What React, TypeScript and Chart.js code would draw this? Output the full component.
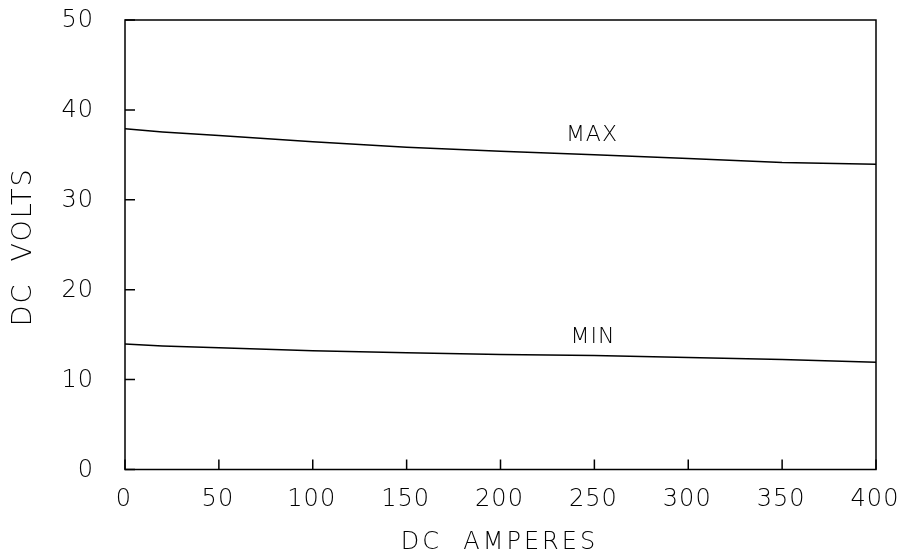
import React, { useEffect, useRef } from "react";
import { Chart, registerables } from "chart.js";

Chart.register(...registerables);

const amperes = [0, 20, 50, 100, 150, 200, 250, 300, 350, 400];
const maxVolts = [37.9, 37.55, 37.15, 36.45, 35.85, 35.4, 35.0, 34.6, 34.15, 33.95];
const minVolts = [13.95, 13.75, 13.55, 13.2, 13.0, 12.8, 12.68, 12.46, 12.24, 11.92];
const xTickValues = [0, 50, 100, 150, 200, 250, 300, 350, 400];
const yTickValues = [0, 10, 20, 30, 40, 50];
const curveLabels = ["MAX", "MIN"];
const curveLabelX = [248.7, 249.2];
const curveLabelY = [37.32, 14.85];
const xTitle = "DC  AMPERES";
const yTitle = "DC  VOLTS";

const FONT = "'DejaVu Sans', sans-serif";
const INK = "#000";

const framePlugin = {
  id: "frame",
  afterDraw(chart: any) {
    const { ctx, chartArea, scales } = chart;
    const xs = scales.x;
    const ys = scales.y;
    ctx.save();
    ctx.strokeStyle = "#000";
    ctx.lineWidth = 1.5;
    ctx.strokeRect(chartArea.left, chartArea.top, chartArea.right - chartArea.left, chartArea.bottom - chartArea.top);
    ctx.beginPath();
    xTickValues.forEach((v) => {
      const px = xs.getPixelForValue(v);
      ctx.moveTo(px, chartArea.bottom);
      ctx.lineTo(px, chartArea.bottom - 10);
    });
    yTickValues.forEach((v) => {
      const py = ys.getPixelForValue(v);
      ctx.moveTo(chartArea.left, py);
      ctx.lineTo(chartArea.left + 10, py);
    });
    ctx.stroke();

    ctx.fillStyle = INK;
    ctx.textBaseline = "middle";
    // tick labels
    ctx.font = `200 24px ${FONT}`;
    (ctx as any).letterSpacing = "1px";
    ctx.textAlign = "center";
    xTickValues.forEach((v) => {
      ctx.fillText(String(v), xs.getPixelForValue(v) - 1, chartArea.bottom + 30);
    });
    ctx.textAlign = "right";
    yTickValues.forEach((v) => {
      ctx.fillText(String(v), chartArea.left - 31, ys.getPixelForValue(v) + 1);
    });
    // curve labels
    ctx.font = `200 22px ${FONT}`;
    (ctx as any).letterSpacing = "1px";
    ctx.textAlign = "center";
    curveLabels.forEach((lab, i) => {
      ctx.fillText(lab, xs.getPixelForValue(curveLabelX[i]), ys.getPixelForValue(curveLabelY[i]) + 1);
    });
    // axis titles
    ctx.font = `200 24px ${FONT}`;
    (ctx as any).letterSpacing = "3px";
    ctx.fillText(xTitle, (chartArea.left + chartArea.right) / 2 - 1, 543);
    ctx.save();
    ctx.translate(24, (chartArea.top + chartArea.bottom) / 2 + 2);
    ctx.rotate(-Math.PI / 2);
    ctx.font = `200 27px ${FONT}`;
    (ctx as any).letterSpacing = "2px";
    ctx.fillText(yTitle, 0, 0);
    ctx.restore();
    ctx.restore();
  },
};

export default function App() {
  const ref = useRef<HTMLCanvasElement | null>(null);
  useEffect(() => {
    if (!ref.current) return;
    const chart = new Chart(ref.current, {
      type: "line",
      data: {
        datasets: [
          {
            label: "MAX",
            data: amperes.map((a, i) => ({ x: a, y: maxVolts[i] })),
            borderColor: "#000",
            borderWidth: 1.5,
            pointRadius: 0,
            tension: 0,
          },
          {
            label: "MIN",
            data: amperes.map((a, i) => ({ x: a, y: minVolts[i] })),
            borderColor: "#000",
            borderWidth: 1.5,
            pointRadius: 0,
            tension: 0,
          },
        ],
      },
      options: {
        animation: false,
        responsive: false,
        maintainAspectRatio: false,
        layout: { padding: { top: 20, right: 26, left: 0, bottom: 0 } },
        plugins: { legend: { display: false }, tooltip: { enabled: false } },
        scales: {
          x: {
            type: "linear",
            min: 0,
            max: 400,
            ticks: { display: false, stepSize: 50 },
            grid: { display: false, drawTicks: false },
            border: { display: false },
            afterFit: (s: any) => {
              s.height = 88.5;
              s.paddingLeft = 0;
              s.paddingRight = 0;
            },
          },
          y: {
            type: "linear",
            min: 0,
            max: 50,
            ticks: { display: false, stepSize: 10 },
            grid: { display: false, drawTicks: false },
            border: { display: false },
            afterFit: (s: any) => {
              s.width = 125;
              s.paddingTop = 0;
              s.paddingBottom = 0;
            },
          },
        },
      },
      plugins: [framePlugin],
    });
    return () => chart.destroy();
  }, []);
  return (
    <div style={{ position: "fixed", left: 0, top: 0, width: 902, height: 558, background: "#fff" }}>
      <canvas ref={ref} width={902} height={558} style={{ display: "block" }} />
    </div>
  );
}
